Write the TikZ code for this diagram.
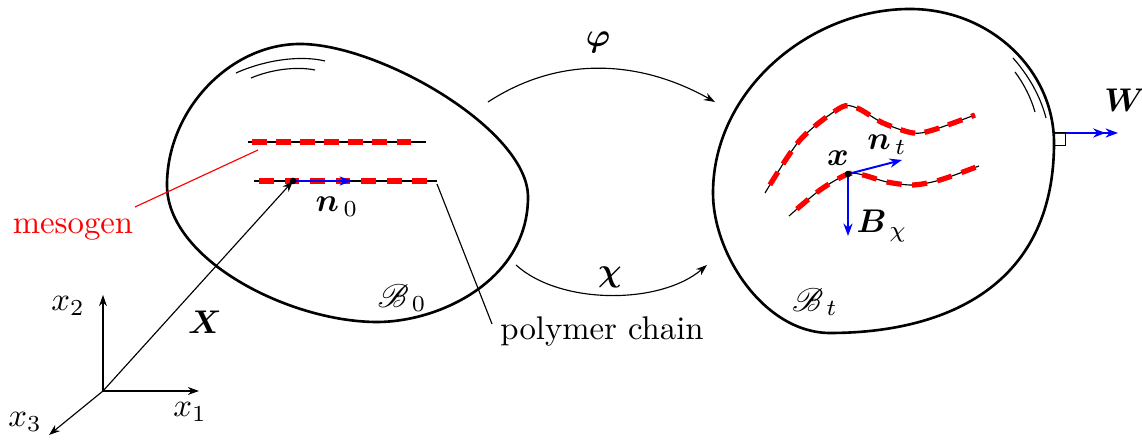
\documentclass[tikz,border=0pt]{standalone}
\usepackage{bm}
\usepackage{mathrsfs}
\usetikzlibrary{arrows.meta}
\begin{document}
\begin{tikzpicture}[x=0.305pt,y=-0.305pt,
  body/.style={line width=0.8pt},
  thinline/.style={line width=0.35pt},
  arr/.style={thinline,-{Stealth[length=3.4pt,width=2.4pt]}},
  bluearr/.style={blue,line width=0.6pt,-{Stealth[length=3.8pt,width=2.8pt]}},
  mesored/.style={red,line width=1.6pt},
  lbl/.style={inner sep=0pt}
]
\useasboundingbox (0,0) rectangle (1142,445);

% ---- reference body B0
\draw[body] (167,185) .. controls (167,110) and (230,44) .. (300,44)
  .. controls (380,44) and (528,130) .. (528,197)
  .. controls (528,280) and (440,322) .. (377,322)
  .. controls (290,322) and (167,260) .. cycle;
\draw[thinline] (236,73) .. controls (265,60) and (300,55) .. (325,61);
\draw[thinline] (251,78) .. controls (270,70) and (295,66) .. (315,70);

% ---- current body Bt
\draw[body] (713,193) .. controls (713,90) and (810,9) .. (910,9)
  .. controls (990,9) and (1054,70) .. (1054,143)
  .. controls (1054,290) and (940,333) .. (830,333)
  .. controls (765,333) and (713,255) .. cycle;
\draw[thinline] (1013,58) .. controls (1028,75) and (1040,95) .. (1046,118);
\draw[thinline] (1015,72) .. controls (1024,84) and (1031,98) .. (1035,112);

% ---- straight chains in B0
\coordinate (c1a) at (248,142); \coordinate (c1b) at (426,142);
\coordinate (c2a) at (254,181); \coordinate (c2b) at (437,181);
\draw[thinline] (c1a) -- (c1b);
\draw[thinline] (c2a) -- (c2b);
\draw[mesored,dash pattern=on 4.45pt off 2.9pt] (252,142) -- (411,142);
\draw[mesored,dash pattern=on 4.5pt off 3.3pt] (259,181) -- (428,181);

% ---- curved chains in Bt
\draw[thinline] plot[smooth] coordinates {(765,193) (800,140) (840,108) (857,108) (883,123) (913,133) (933,130) (975,115)};
\draw[mesored,dash pattern=on 4.6pt off 2.9pt,dash phase=4.6pt] plot[smooth] coordinates {(765,193) (800,140) (840,108) (857,108) (883,123) (913,133) (933,130) (975,115)};
\draw[thinline] plot[smooth] coordinates {(789,216) (820,190) (848,174) (863,175) (887,182) (913,185) (940,180) (979,166)};
\draw[mesored,dash pattern=on 4.6pt off 3.2pt,dash phase=4.6pt] plot[smooth] coordinates {(789,216) (820,190) (848,174) (863,175) (887,182) (913,185) (940,180) (979,166)};

% ---- axes
\coordinate (O) at (103,391);
\coordinate (e1) at (199,391);
\coordinate (e2) at (103,295);
\coordinate (e3) at (49,435);
\draw[arr] (O) -- (e1);
\draw[arr] (O) -- (e2);
\draw[arr] (O) -- (e3);
\node[lbl] (x1) at (190,412) {$x_1$};
\node[lbl] (x2) at (68,306) {$x_2$};
\node[lbl] (x3) at (25,422) {$x_3$};

% ---- material point and X
\coordinate (P0) at (293,181);
\draw[arr] (O) -- (P0);
\coordinate (n0e) at (352,181);
\draw[bluearr] (P0) -- (n0e);
\fill (P0) circle[radius=3.3];
\node[lbl] (Xl) at (205,322) {$\bm{X}$};
\node[lbl] (n0) at (337,207) {$\bm{n}_{\,0}$};
\node[lbl] (B0) at (402,298) {$\mathscr{B}_{\,0}$};

% ---- mesogen and polymer chain labels
\node[lbl,red] (meso) at (73,229) {mesogen};
\coordinate (mA) at (135,207);
\coordinate (mB) at (258,150);
\draw[red,line width=0.35pt] (mA) -- (mB);
\node[lbl] (poly) at (602,331) {polymer chain};
\coordinate (pA) at (437,184);
\coordinate (pB) at (492,324);
\draw[thinline] (pA) -- (pB);

% ---- maps
\coordinate (phA) at (488,102); \coordinate (phB) at (715,102);
\draw[arr] (phA) .. controls (560,55) and (640,60) .. (phB);
\node[lbl] (phi) at (598,42) {$\bm{\varphi}$};
\coordinate (chA) at (516,265); \coordinate (chB) at (707,265);
\draw[arr] (chA) .. controls (560,305) and (660,305) .. (chB);
\node[lbl] (chi) at (610,277) {$\bm{\chi}$};

% ---- current configuration vectors
\coordinate (P) at (848,174);
\coordinate (nte) at (902,160);
\coordinate (Be) at (848,236);
\draw[bluearr] (P) -- (nte);
\draw[bluearr] (P) -- (Be);
\fill (P) circle[radius=3.3];
\node[lbl] (xl) at (838,158) {$\bm{x}$};
\node[lbl] (nt) at (887,145) {$\bm{n}_{\,t}$};
\node[lbl] (Bchi) at (882,226) {$\bm{B}_{\,\chi}$};
\node[lbl] (Bt) at (815,302) {$\mathscr{B}_{\,t}$};

% ---- W
\coordinate (Ws) at (1055,133);
\coordinate (We) at (1118,133);
\draw[blue,line width=0.6pt,-{Stealth[length=3.8pt,width=2.8pt]Stealth[length=3.8pt,width=2.8pt]}] (Ws) -- (We);
\draw[line width=0.3pt] (Ws) -- (1065,133) -- (1065,146) -- (1054,146);
\node[lbl] (Wl) at (1125,100) {$\bm{W}$};
\end{tikzpicture}
\end{document}
